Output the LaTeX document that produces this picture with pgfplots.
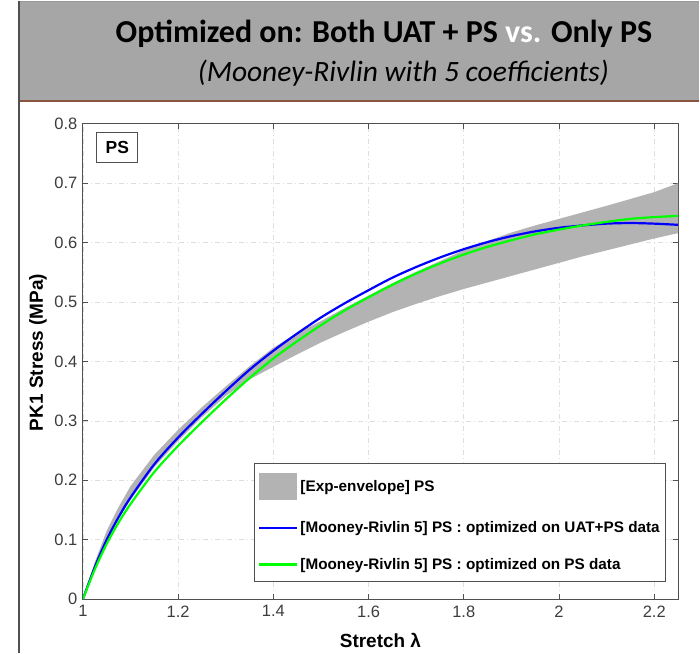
\documentclass[border=0pt]{standalone}
\usepackage{pgfplots}
\pgfplotsset{compat=1.18}
\usepgfplotslibrary{fillbetween}
\usepackage{fontspec}
\setmainfont{Liberation Sans}
\newfontfamily\titlefont{Carlito}
\definecolor{envgray}{RGB}{179,179,179}
\definecolor{headgray}{RGB}{166,166,166}
\definecolor{brownline}{RGB}{140,85,65}
\definecolor{axgray}{RGB}{80,80,80}
\definecolor{ticktext}{RGB}{60,60,60}
\definecolor{gridgray}{RGB}{222,222,222}
\definecolor{mblue}{RGB}{0,0,255}
\definecolor{mgreen}{RGB}{0,255,0}
\begin{document}
\begin{tikzpicture}
\path (0pt,0pt) rectangle (700pt,654pt);
% header band
\fill[headgray] (19pt,553pt) rectangle (700pt,652pt);
\draw[gray!80, line width=1pt] (19pt,652.5pt) -- (700pt,652.5pt);
\draw[brownline, line width=2pt] (19pt,553pt) -- (700pt,553pt);
\draw[axgray, line width=1.5pt] (19pt,0pt) -- (19pt,653pt);
\node[anchor=base, font=\titlefont\bfseries\fontsize{32}{37}\selectfont] at (384.5pt,611pt) {Optimized on: Both UAT + PS \textcolor{white}{vs.} Only PS};
\node[anchor=base, font=\titlefont\itshape\fontsize{29.5}{34}\selectfont] at (404pt,572pt) {(Mooney-Rivlin with 5 coefficients)};
\begin{axis}[
  at={(83pt,54pt)}, anchor=south west,
  width=596pt, height=476pt, scale only axis,
  xmin=1, xmax=2.25, ymin=0, ymax=0.8,
  xtick={1,1.2,1.4,1.6,1.8,2,2.2},
  ytick={0,0.1,0.2,0.3,0.4,0.5,0.6,0.7,0.8},
  /pgf/number format/assume math mode=true,
  tick label style={font=\fontsize{16.5}{19}\selectfont, text=ticktext},
  xticklabel style={yshift=-3pt},
  yticklabel style={xshift=-2pt},
  tick align=inside,
  major tick length=5pt,
  tick style={axgray, line width=0.8pt},
  axis line style={axgray, line width=0.9pt},
  grid=major,
  major grid style={gridgray, line width=0.7pt, dash pattern=on 5pt off 3pt on 1pt off 3pt},
  xlabel={\bfseries Stretch λ},
  ylabel={\bfseries PK1 Stress (MPa)},
  label style={font=\fontsize{19}{22}\selectfont},
  xlabel style={at={(axis description cs:0.5,-0.088)}, anchor=center},
  ylabel style={at={(axis description cs:-0.0755,0.519)}, anchor=center},
  legend style={at={(0.9799,0.0357)}, anchor=south east,
    font=\fontsize{15.3}{18}\selectfont\bfseries,
    draw=axgray, line width=0.8pt, fill=white,
    inner xsep=4pt, inner ysep=9pt, row sep=20pt,
    cells={anchor=west}},
  legend cell align=left,
]
\addplot[name path=up, draw=none, forget plot] coordinates {
(1.00,0.000) (1.025,0.062) (1.05,0.115) (1.075,0.155) (1.10,0.190) (1.15,0.243)
(1.20,0.285) (1.25,0.323) (1.30,0.358) (1.35,0.392) (1.40,0.423) (1.45,0.448)
(1.50,0.468) (1.55,0.490) (1.60,0.511) (1.65,0.532) (1.70,0.551) (1.75,0.569)
(1.80,0.587) (1.85,0.603) (1.90,0.617) (1.95,0.629) (2.00,0.640) (2.10,0.662)
(2.20,0.685) (2.25,0.700)};
\addplot[name path=lo, draw=none, forget plot] coordinates {
(1.00,0.000) (1.025,0.050) (1.05,0.096) (1.075,0.135) (1.10,0.167) (1.15,0.222)
(1.20,0.266) (1.25,0.306) (1.30,0.342) (1.35,0.370) (1.40,0.391) (1.45,0.412)
(1.50,0.432) (1.55,0.450) (1.60,0.467) (1.65,0.483) (1.70,0.497) (1.75,0.510)
(1.80,0.522) (1.85,0.533) (1.90,0.544) (1.95,0.555) (2.00,0.566) (2.05,0.577)
(2.10,0.587) (2.15,0.597) (2.20,0.607) (2.25,0.616)};
\addplot[envgray, draw=none, fill=envgray,
  legend image code/.code={\fill[envgray] (0pt,-13.5pt) rectangle (38pt,13.5pt);}]
  fill between[of=up and lo];
\addlegendentry{[Exp-envelope] PS}
\addplot[mblue, line width=2.2pt, smooth,
  legend image code/.code={\draw[mblue, line width=2.2pt] (0pt,0pt) -- (38pt,0pt);}] coordinates {
(1.00,0.000) (1.025,0.054) (1.05,0.100) (1.075,0.138) (1.10,0.171) (1.15,0.227)
(1.20,0.272) (1.25,0.312) (1.30,0.350) (1.35,0.386) (1.40,0.418) (1.45,0.447)
(1.50,0.474) (1.55,0.498) (1.60,0.520) (1.65,0.541) (1.70,0.559) (1.75,0.575)
(1.80,0.589) (1.85,0.601) (1.90,0.611) (1.95,0.619) (2.00,0.625) (2.05,0.629)
(2.10,0.632) (2.15,0.633) (2.20,0.632) (2.25,0.630)};
\addlegendentry{[Mooney-Rivlin 5] PS : optimized on UAT+PS data}
\addplot[mgreen, line width=2.2pt, smooth,
  legend image code/.code={\draw[mgreen, line width=2.2pt] (0pt,0pt) -- (38pt,0pt);}] coordinates {
(1.00,0.000) (1.025,0.050) (1.05,0.093) (1.075,0.129) (1.10,0.160) (1.15,0.214)
(1.20,0.258) (1.25,0.298) (1.30,0.336) (1.35,0.372) (1.40,0.405) (1.45,0.434)
(1.50,0.461) (1.55,0.486) (1.60,0.508) (1.65,0.529) (1.70,0.548) (1.75,0.565)
(1.80,0.580) (1.85,0.593) (1.90,0.604) (1.95,0.614) (2.00,0.622) (2.05,0.629)
(2.10,0.635) (2.15,0.640) (2.20,0.643) (2.25,0.645)};
\addlegendentry{[Mooney-Rivlin 5] PS : optimized on PS data}
\node[draw=axgray, line width=0.8pt, fill=white, minimum width=41pt, minimum height=30pt, inner sep=0pt,
  font=\fontsize{17.5}{20}\selectfont\bfseries] at (axis description cs:0.0579,0.9496) {PS};
\end{axis}
\end{tikzpicture}
\end{document}
